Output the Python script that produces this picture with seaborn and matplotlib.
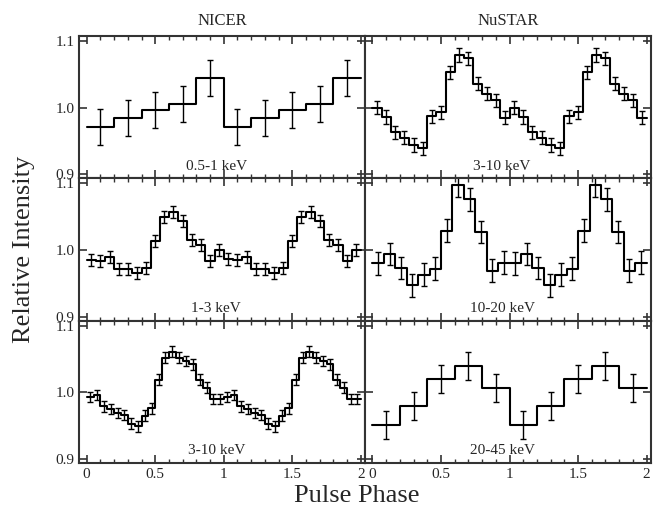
import numpy as np
import seaborn as sns
import matplotlib.pyplot as plt

# pulse profiles, two cycles (phase 0-2)
nicer_05_1 = [0.971, 0.985, 0.997, 1.005, 1.045,
              0.971, 0.985, 0.997, 1.005, 1.045]
nicer_1_3 = [0.985, 0.983, 0.990, 0.971, 0.971, 0.966, 0.973, 1.014, 1.049, 1.057,
             1.043, 1.015, 1.008, 0.983, 1.000,
             0.987, 0.985, 0.990, 0.971, 0.971, 0.966, 0.973, 1.014, 1.049, 1.057,
             1.043, 1.015, 1.008, 0.983, 1.000]
nicer_3_10 = [0.993, 0.996, 0.979, 0.975, 0.969, 0.966, 0.953, 0.949, 0.965, 0.976,
              1.019, 1.052, 1.061, 1.052, 1.047, 1.042, 1.019, 1.007, 0.990, 0.990,
              0.993, 0.996, 0.979, 0.975, 0.969, 0.966, 0.953, 0.949, 0.965, 0.976,
              1.019, 1.052, 1.061, 1.052, 1.047, 1.042, 1.019, 1.007, 0.990, 0.990]
nustar_3_10 = [1.000, 0.986, 0.963, 0.955, 0.944, 0.939, 0.987, 0.993, 1.053, 1.079,
               1.074, 1.036, 1.021, 1.011, 0.985,
               1.000, 0.986, 0.963, 0.955, 0.944, 0.939, 0.987, 0.993, 1.053, 1.079,
               1.074, 1.036, 1.021, 1.011, 0.985]
nustar_10_20 = [0.980, 0.994, 0.973, 0.947, 0.963, 0.972, 1.029, 1.097, 1.076, 1.027,
                0.969, 0.981,
                0.980, 0.994, 0.973, 0.947, 0.963, 0.972, 1.029, 1.097, 1.076, 1.027,
                0.969, 0.981]
nustar_20_45 = [0.951, 0.980, 1.020, 1.039, 1.006,
                0.951, 0.980, 1.020, 1.039, 1.006]

errors = {"0.5-1 keV": 0.027, "1-3 keV": 0.009, "3-10 keV N": 0.008,
          "3-10 keV S": 0.010, "10-20 keV": 0.017, "20-45 keV": 0.021}

panels = [
    [("0.5-1 keV", nicer_05_1, errors["0.5-1 keV"]), ("3-10 keV", nustar_3_10, errors["3-10 keV S"])],
    [("1-3 keV", nicer_1_3, errors["1-3 keV"]), ("10-20 keV", nustar_10_20, errors["10-20 keV"])],
    [("3-10 keV", nicer_3_10, errors["3-10 keV N"]), ("20-45 keV", nustar_20_45, errors["20-45 keV"])],
]
columns = ["NICER", "NuSTAR"]
xticks = [0, 0.5, 1, 1.5, 2]
xticklabels = ["0", "0.5", "1", "1.5", "2"]
yticks = [0.9, 1.0, 1.1]
yticklabels = ["0.9", "1.0", "1.1"]

sns.set_theme(style="ticks")
plt.rcParams["font.family"] = ["Liberation Serif", "DejaVu Serif"]

fig, axes = plt.subplots(3, 2, figsize=(6.54, 5.08), dpi=100)
fig.subplots_adjust(left=0.121, right=0.995, bottom=0.0886, top=0.929, wspace=0, hspace=0)

for r in range(3):
    for c in range(2):
        ax = axes[r, c]
        label, vals, err = panels[r][c]
        vals = np.array(vals)
        n = len(vals)
        edges = np.linspace(0, 2, n + 1)
        centers = (edges[:-1] + edges[1:]) / 2
        # step profile
        sns.lineplot(x=edges, y=np.append(vals, vals[-1]), ax=ax, color="black",
                     lw=1.5, drawstyle="steps-post", estimator=None)
        ax.errorbar(centers, vals, yerr=err, fmt="none", ecolor="black",
                    elinewidth=1.0, capsize=2.5, capthick=1.0)
        ax.set_xlim(-0.055, 2.03)
        ax.set_ylim(0.894, 1.1075)
        ax.set_xticks(xticks)
        ax.set_xticks(np.arange(0.1, 2.0, 0.1), minor=True)
        ax.set_yticks(yticks)
        ax.tick_params(which="both", direction="in", top=True, right=True, color="#333333")
        ax.tick_params(which="major", length=6, width=1.2, labelsize=11)
        ax.tick_params(which="minor", length=3, width=1.0)
        for s in ax.spines.values():
            s.set_linewidth(1.5)
            s.set_color("#333333")
        ax.text(0.48, 0.085, label, transform=ax.transAxes, ha="center", va="center",
                fontsize=11)
        ax.set_xlabel("")
        ax.set_ylabel("")
        ax.set_yticklabels(yticklabels if c == 0 else [])
        ax.set_xticklabels(xticklabels if r == 2 else [])
        if r == 0:
            ax.set_title(columns[c], fontsize=12, pad=8)

fig.text(0.037, 0.51, "Relative Intensity", rotation=90, ha="center", va="center", fontsize=19)
fig.text(0.545, 0.024, "Pulse Phase", ha="center", va="center", fontsize=19)

plt.savefig("out.png", dpi=100)
